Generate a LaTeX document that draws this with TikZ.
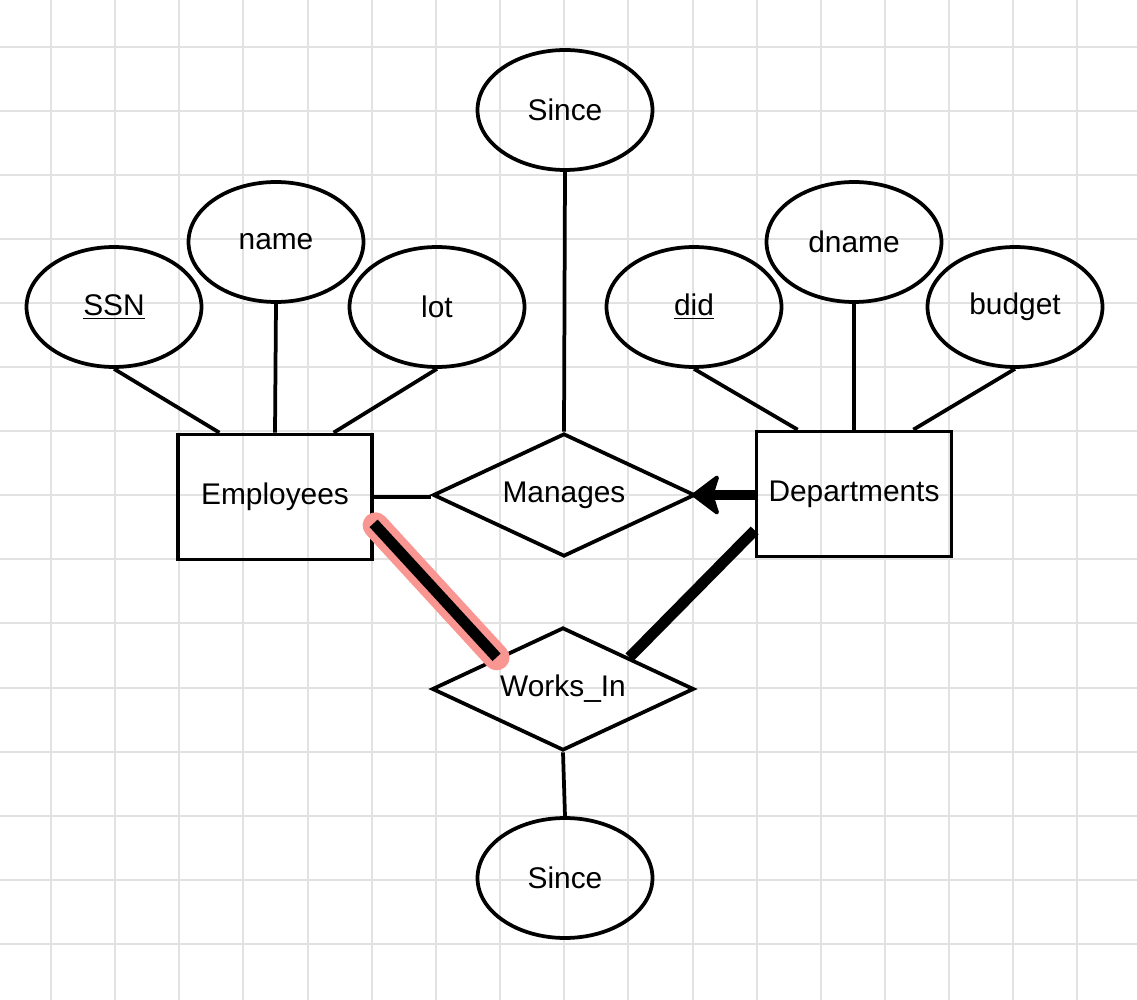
\documentclass[tikz,border=0pt]{standalone}
\usepackage{fontspec}
\setmainfont{Liberation Sans}
\usepackage{tikz}
\usetikzlibrary{shapes.geometric, arrows.meta, calc}
\definecolor{gridgray}{RGB}{226, 226, 226}
\definecolor{hilite}{RGB}{250, 150, 145}

\begin{document}
\begin{tikzpicture}[x=0.02cm, y=-0.02cm, line width=0.075cm,
  label font/.style={font=\fontsize{17}{20}\selectfont},
  attr/.style={draw, ellipse, inner sep=0pt, minimum width=3.5cm, minimum height=2.4cm, label font},
  entity/.style={draw, rectangle, minimum width=3.87cm, minimum height=2.5cm, label font},
  rel/.style={draw, diamond, aspect=2.1, inner sep=0pt, minimum width=5.24cm, minimum height=2.46cm, label font},
  heavy/.style={line width=0.22cm}]
  \useasboundingbox (0, 0) rectangle (1137, 1000);

  % Grid
  \foreach \i in {0, 1, ..., 16} {
    \draw [draw=gridgray, line width=0.04cm] ({51 + 64.15 * \i}, 0) -- ({51 + 64.15 * \i}, 1000);
  }
  \foreach \i in {0, 1, ..., 14} {
    \draw [draw=gridgray, line width=0.04cm] (0, {47 + 64.05 * \i}) -- (1137, {47 + 64.05 * \i});
  }

  % Entities
  \node [entity] (emp) at (275, 497) {Employees};
  \node [entity, minimum width=3.9cm] (dep) at (854, 494) {Departments};

  % Relationships
  \node [rel] (man) at (564, 495) {Manages};
  \node [rel, minimum width=5.24cm] (works) at (563, 689) {Works\_In};

  % Attributes
  \node [attr] (ssn) at (114, 307) {\underline{SSN}};
  \node [attr] (name) at (276, 242) {name};
  \node [attr] (lot) at (437, 307) {lot};
  \node [attr] (did) at (694, 307) {\underline{did}};
  \node [attr] (dname) at (854, 242) {dname};
  \node [attr] (budget) at (1015, 307) {budget};
  \node [attr] (since1) at (565, 110) {Since};
  \node [attr] (since2) at (565, 878) {Since};

  % Attribute lines
  \draw (ssn.south) -- ($(emp.north west) + (43, 0)$);
  \draw (name.south) -- (emp.north);
  \draw (lot.south) -- ($(emp.north east) + (-40, 0)$);
  \draw (did.south) -- ($(dep.north west) + (43, 0)$);
  \draw (dname.south) -- (dep.north);
  \draw (budget.south) -- ($(dep.north east) + (-40, 0)$);
  \draw (since1.south) -- (man.north);
  \draw (works.south) -- (since2.north);

  % Manages
  \draw (emp.east) -- (emp.east -| man.west);
  \draw [heavy, -{Stealth[length=0.6cm, width=0.9cm, inset=0.14cm, round, line width=0.08cm]}, shorten >=-0.1cm] (dep.west |- man.east) -- (man.east);

  % Works_In
  \draw [line width=0.52cm, hilite, line cap=round] ($(emp.south east) + (2, -36)$) -- (works.north west);
  \draw [heavy] ($(emp.south east) + (0, -38)$) -- (works.north west);
  \draw [heavy] ($(dep.south west) + (0, -28)$) -- (works.north east);

\end{tikzpicture}
\end{document}
